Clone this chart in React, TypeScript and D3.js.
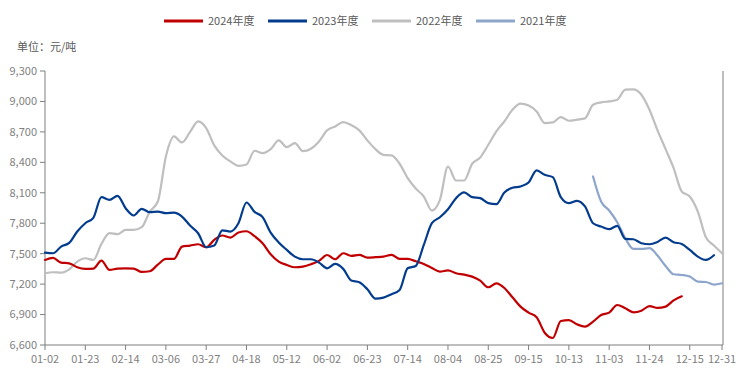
import React from 'react';
import * as d3 from 'd3';

// x axis: trading-day index, labelled every 15 days
const xTickLabels = ['01-02', '01-23', '02-14', '03-06', '03-27', '04-18', '05-12', '06-02', '06-23',
  '07-14', '08-04', '08-25', '09-15', '10-13', '11-03', '11-24', '12-15', '12-31'];
const xTickDays = [0, 15, 30, 45, 60, 75, 90, 105, 120, 135, 150, 165, 180, 195, 210, 225, 240, 252];
const yTicks = [6600, 6900, 7200, 7500, 7800, 8100, 8400, 8700, 9000, 9300];

// one value every 3 trading days
const STEP = 3;

const y2024 = [
  7438, 7458, 7412, 7405, 7366, 7350, 7353, 7432, 7340, 7353,
  7356, 7353, 7320, 7327, 7392, 7448, 7448, 7570, 7580, 7593,
  7563, 7636, 7679, 7659, 7708, 7721, 7672, 7603, 7494, 7422,
  7389, 7366, 7373, 7396, 7429, 7487, 7445, 7504, 7478, 7488,
  7461, 7465, 7471, 7488, 7448, 7448, 7425, 7399, 7359, 7323,
  7336, 7307, 7294, 7274, 7234, 7169, 7208, 7162, 7070, 6978,
  6919, 6873, 6721, 6669, 6837, 6846, 6804, 6781, 6830, 6896,
  6919, 6994, 6962, 6922, 6938, 6984, 6965, 6978, 7040, 7080,
];

const y2023 = [
  7511, 7504, 7570, 7606, 7718, 7800, 7853, 8057, 8030, 8070,
  7948, 7876, 7942, 7909, 7915, 7899, 7905, 7866, 7777, 7701,
  7563, 7580, 7730, 7718, 7800, 8004, 7912, 7860, 7708, 7610,
  7537, 7471, 7445, 7445, 7412, 7356, 7399, 7350, 7235, 7218,
  7149, 7057, 7067, 7100, 7142, 7356, 7379, 7586, 7800, 7859,
  7938, 8047, 8103, 8057, 8047, 7998, 7988, 8103, 8149, 8162,
  8201, 8320, 8277, 8254, 8057, 7998, 8021, 7965, 7800, 7767,
  7741, 7774, 7646, 7642, 7603, 7593, 7616, 7659, 7613, 7596,
  7537, 7471, 7438, 7484,
];

const y2022 = [
  7307, 7317, 7313, 7346, 7422, 7455, 7438, 7596, 7702, 7692,
  7734, 7734, 7761, 7915, 8014, 8458, 8655, 8596, 8700, 8803,
  8738, 8567, 8468, 8409, 8366, 8379, 8514, 8491, 8530, 8616,
  8550, 8590, 8510, 8534, 8606, 8715, 8754, 8797, 8767, 8715,
  8616, 8530, 8474, 8468, 8386, 8244, 8142, 8063, 7925, 8030,
  8359, 8221, 8221, 8386, 8448, 8573, 8705, 8803, 8918, 8978,
  8961, 8902, 8787, 8793, 8846, 8810, 8820, 8833, 8968, 8991,
  9001, 9017, 9116, 9119, 9066, 8918, 8715, 8530, 8343, 8113,
  8063, 7915, 7662, 7580, 7504,
];

// 2021 only starts late in the year
const start2021 = 204;
const y2021 = [
  8261, 8014, 7925, 7810, 7652, 7547, 7547, 7554, 7481, 7379,
  7297, 7290, 7274, 7225, 7221, 7195, 7208,
];

const legend = [
  { name: '2024年度', color: '#C00000' },
  { name: '2023年度', color: '#033C8D' },
  { name: '2022年度', color: '#BFBFBF' },
  { name: '2021年度', color: '#8EA5CB' },
];

// drawn back to front
const lines = [
  { color: '#BFBFBF', start: 0, values: y2022 },
  { color: '#8EA5CB', start: start2021, values: y2021 },
  { color: '#C00000', start: 0, values: y2024 },
  { color: '#033C8D', start: 0, values: y2023 },
];

const font = '"Noto Sans CJK SC", "Noto Sans", sans-serif';
const axisColor = '#7F7F7F';
const textColor = '#7F7F7F';

export default function App() {
  const width = 744;
  const height = 374;
  const left = 45, right = 722, top = 71, bottom = 345;

  const x = d3.scaleLinear().domain([0, 252]).range([left, right]);
  const y = d3.scaleLinear().domain([6600, 9300]).range([bottom, top]);
  const fmt = d3.format(',');

  const line = d3.line<number>()
    .x((d, i) => x(i))
    .y(d => y(d))
    .curve(d3.curveMonotoneX);

  return (
    <div style={{ position: 'absolute', left: 0, top: 0 }}>
      <svg width={width} height={height} style={{ display: 'block', background: '#fff' }} fontFamily={font}>
        {/* legend */}
        {legend.map((l, i) => (
          <g key={l.name} transform={`translate(${164 + i * 104},21)`}>
            <line x1={0} x2={39} y1={0} y2={0} stroke={l.color} strokeWidth={3} />
            <text x={44} y={0} dy="0.35em" fontSize={11} fill="#595959">{l.name}</text>
          </g>
        ))}
        <text x={17} y={47} dy="0.35em" fontSize={11} fill="#595959">单位：元/吨</text>

        {/* y axis */}
        <line x1={left} x2={left} y1={top} y2={bottom} stroke={axisColor} />
        {yTicks.map(t => (
          <g key={t}>
            <line x1={left - 5} x2={left} y1={y(t)} y2={y(t)} stroke={axisColor} />
            <text x={37} y={y(t)} dy="0.35em" textAnchor="end" fontSize={11} fill={textColor}>{fmt(t)}</text>
          </g>
        ))}
        {/* right border */}
        <line x1={right + 1} x2={right + 1} y1={top} y2={bottom} stroke={axisColor} />

        {/* x axis */}
        <line x1={left} x2={right + 1} y1={bottom} y2={bottom} stroke={axisColor} />
        {xTickDays.map((d, i) => (
          <g key={d}>
            <line x1={x(d)} x2={x(d)} y1={bottom} y2={bottom + 5} stroke={axisColor} />
            <text x={x(d)} y={359} dy="0.35em" textAnchor="middle" fontSize={11} fill={textColor}>{xTickLabels[i]}</text>
          </g>
        ))}

        {/* series */}
        {lines.map((s, k) => {
          const gen = d3.line<number>()
            .x((d, i) => x(s.start + i * STEP))
            .y(d => y(d))
            .curve(d3.curveMonotoneX);
          return (
            <path key={k} d={gen(s.values) || ''} fill="none" stroke={s.color} strokeWidth={2.2}
              strokeLinejoin="round" strokeLinecap="round" />
          );
        })}
      </svg>
    </div>
  );
}
